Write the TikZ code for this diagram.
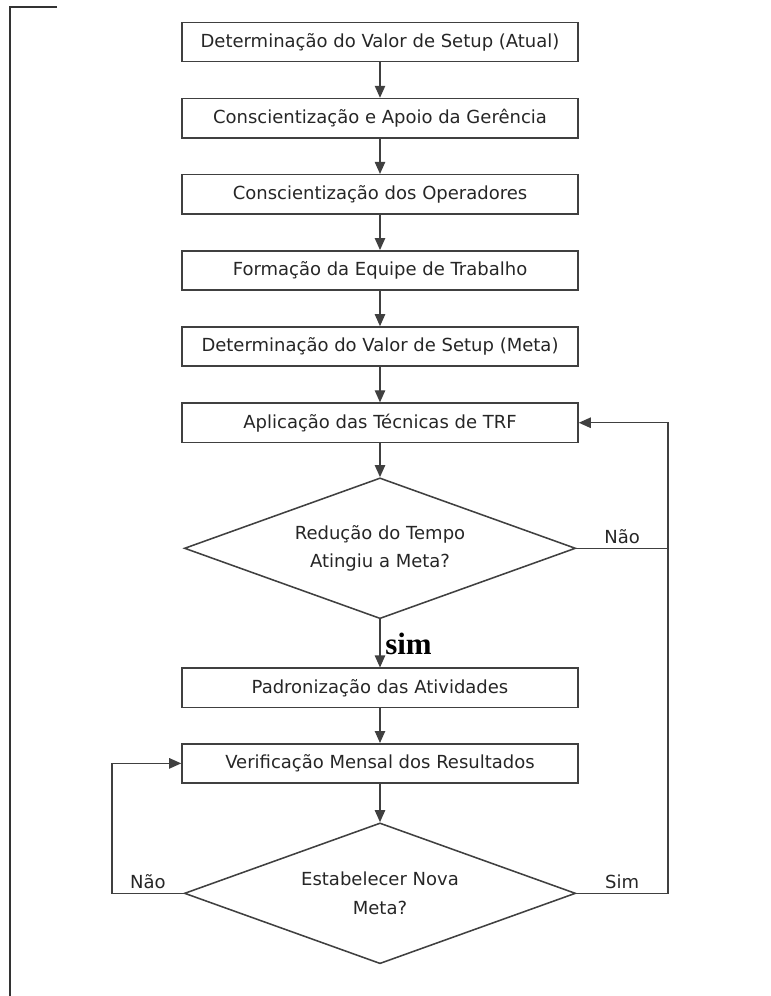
\documentclass[tikz,border=0pt]{standalone}
\usepackage{fontspec}
\setmainfont{DejaVu Sans}
\newfontfamily\simfont{Liberation Serif}
\usetikzlibrary{arrows.meta,positioning,shapes.geometric}

\begin{document}
\begin{tikzpicture}[
  font=\fontsize{12.8}{20}\selectfont,
  >={Triangle[length=0.3cm,width=0.26cm]},
  block/.style={draw=black!75,line width=1.1pt,rectangle,minimum width=9.9cm,
                minimum height=0.98cm,inner sep=0pt,text=black!85},
  decision/.style={draw=black!75,line width=1.1pt,diamond,aspect=2.78,
                   minimum width=9.78cm,minimum height=3.52cm,inner sep=0pt,
                   align=center,text=black!85},
  flow/.style={draw=black!75,line width=0.9pt},
  answer/.style={text=black!85,inner sep=3pt},
  node distance=0.885cm,
]

%% ============================================================
%% Page: 19.3 x 24.9 cm, main column at x=9.5
%% ============================================================
\useasboundingbox (0,0) rectangle (19.275,-24.9);

% --- corner of the page frame ---
\draw[black!80,line width=0.8pt] (1.425,-0.175) -- (0.25,-0.175) -- (0.25,-24.9);

% --- preparation steps ---
\node[block] (atual) at (9.5,-1.05) {Determinação do Valor de Setup (Atual)};
\node[block,below=of atual] (gerencia) {Conscientização e Apoio da Gerência};
\node[block,below=of gerencia] (operadores) {Conscientização dos Operadores};
\node[block,below=of operadores] (equipe) {Formação da Equipe de Trabalho};
\node[block,below=of equipe] (meta) {Determinação do Valor de Setup (Meta)};

\draw[flow,->] (atual) -- (gerencia);
\draw[flow,->] (gerencia) -- (operadores);
\draw[flow,->] (operadores) -- (equipe);
\draw[flow,->] (equipe) -- (meta);

% --- TRF loop ---
\node[block,below=of meta] (trf) {Aplicação das Técnicas de TRF};
\node[decision,below=0.85cm of trf] (reducao) {Redução do Tempo\\Atingiu a Meta?};

\draw[flow,->] (meta) -- (trf);
\draw[flow,->] (trf) -- (reducao);

% --- follow-up ---
\node[block,below=1.2cm of reducao] (padrao) {Padronização das Atividades};
\node[block,below=0.87cm of padrao] (verif) {Verificação Mensal dos Resultados};
\node[decision,below=0.96cm of verif] (nova) {Estabelecer Nova\\Meta?};

\draw[flow,->] (reducao) -- node[right,font=\simfont\fontsize{22}{24}\selectfont\bfseries]{sim} (padrao);
\draw[flow,->] (padrao) -- (verif);
\draw[flow,->] (verif) -- (nova);

% --- return lines ---
\coordinate (retdir) at (16.7,0);
\coordinate (retesq) at (2.8,0);

\draw[flow,->] (reducao.east) -- node[answer,above]{Não} (reducao.east -| retdir)
               |- (trf.east);
\draw[flow] (nova.east) -- node[answer,above]{Sim} (nova.east -| retdir)
            -- (reducao.east -| retdir);
\draw[flow,->] (nova.west) -- node[answer,above]{Não} (nova.west -| retesq)
               |- (verif.west);

\end{tikzpicture}
\end{document}
